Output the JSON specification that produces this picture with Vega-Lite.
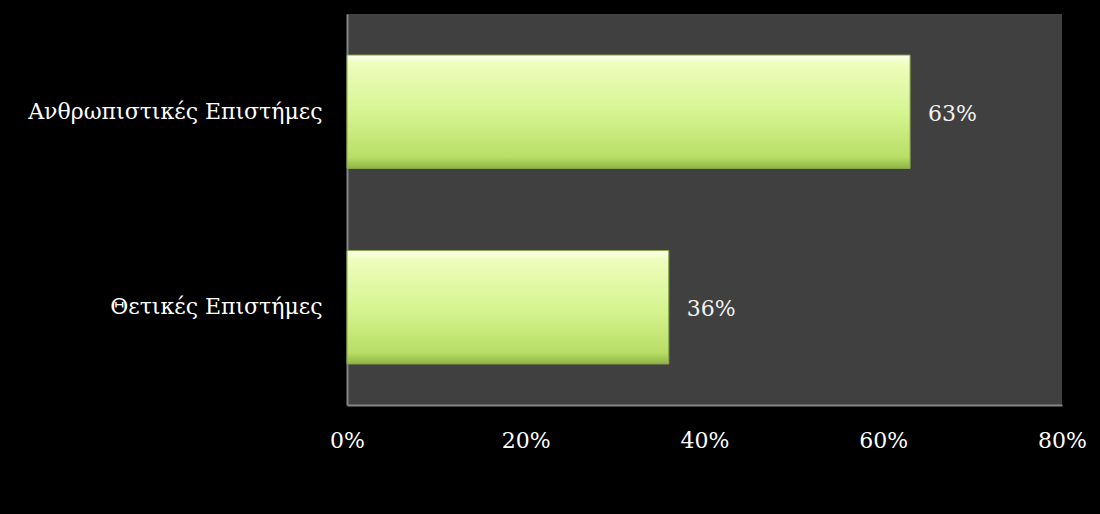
{
  "$schema": "https://vega.github.io/schema/vega-lite/v6.json",
  "autosize": {"type": "none"},
  "padding": {"left": 347, "top": 14, "right": 38, "bottom": 109},
  "width": 715,
  "height": 391,
  "background": "#000000",
  "config": {
    "view": {"fill": "#404040", "stroke": null},
    "font": "DejaVu Serif"
  },
  "data": {
    "values": [
      {"category": "Ανθρωπιστικές Επιστήμες", "value": 0.63},
      {"category": "Θετικές Επιστήμες", "value": 0.36}
    ]
  },
  "encoding": {
    "y": {
      "field": "category",
      "type": "nominal",
      "sort": null,
      "scale": {"paddingInner": 0.42, "paddingOuter": 0.21},
      "axis": {
        "title": null,
        "ticks": false,
        "domain": true,
        "domainColor": "#858585",
        "domainWidth": 2,
        "labelColor": "#ffffff",
        "labelFont": "DejaVu Serif",
        "labelFontSize": 22,
        "labelPadding": 25,
        "labelLimit": 400
      }
    },
    "x": {
      "field": "value",
      "type": "quantitative",
      "scale": {"domain": [0, 0.8], "nice": false},
      "axis": {
        "title": null,
        "format": ".0%",
        "values": [0, 0.2, 0.4, 0.6, 0.8],
        "ticks": false,
        "grid": false,
        "domainColor": "#858585",
        "domainWidth": 2,
        "labelColor": "#ffffff",
        "labelFont": "DejaVu Serif",
        "labelFontSize": 22,
        "labelPadding": 25,
        "labelFlush": false
      }
    }
  },
  "layer": [
    {
      "mark": {
        "type": "bar",
        "stroke": "#8aa84a",
        "strokeWidth": 1,
        "fill": {
          "gradient": "linear",
          "x1": 0, "y1": 0, "x2": 0, "y2": 1,
          "stops": [
            {"offset": 0, "color": "#fdfff0"},
            {"offset": 0.08, "color": "#eefdbc"},
            {"offset": 0.5, "color": "#d6f592"},
            {"offset": 0.9, "color": "#b8de66"},
            {"offset": 1, "color": "#8fb446"}
          ]
        }
      }
    },
    {
      "mark": {
        "type": "text",
        "align": "left",
        "baseline": "middle",
        "dx": 18,
        "dy": 2,
        "fontSize": 22,
        "font": "DejaVu Serif",
        "color": "#f2f2f2"
      },
      "encoding": {
        "text": {"field": "value", "type": "quantitative", "format": ".0%"}
      }
    }
  ]
}
